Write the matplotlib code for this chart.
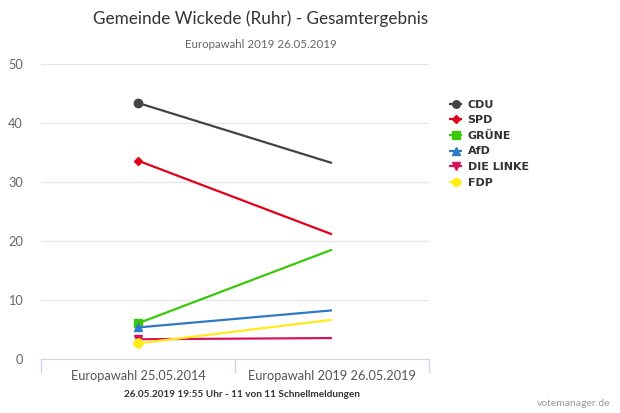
import matplotlib
matplotlib.use("Agg")
from matplotlib import pyplot as plt

# data
wahlen = ["Europawahl 25.05.2014", "Europawahl 2019 26.05.2019"]
parteien = ["CDU", "SPD", "GRÜNE", "AfD", "DIE LINKE", "FDP"]
cdu = [43.4, 33.2]
spd = [33.6, 21.1]
gruene = [6.0, 18.5]
afd = [5.3, 8.2]
linke = [3.3, 3.5]
fdp = [2.6, 6.6]

werte = [cdu, spd, gruene, afd, linke, fdp]
farben = ["#434348", "#e2001a", "#3cc80a", "#2f7ac4", "#d6145a", "#ffec1a"]
marker = ["o", "D", "s", "^", "v", "o"]
msize = [6, 4.5, 6, 6, 6, 6.5]

plt.rcParams['font.family'] = ['Lato', 'DejaVu Sans']

fig = plt.figure(figsize=(6.2, 4.13), dpi=100)
ax = fig.add_axes([0.066, 0.1315, 0.626, 0.7135])

x = list(range(len(wahlen)))
for name, y, c, m, s in zip(parteien, werte, farben, marker, msize):
    ax.plot(x, y, color=c, lw=1.6, marker=m, markersize=s, markevery=[0],
            label=name, solid_capstyle="butt")

ax.set_xlim(-0.5, 1.5)
ax.set_ylim(0, 50)
ax.set_yticks([0, 10, 20, 30, 40, 50])
ax.grid(axis="y", color="#e6e6e6", lw=1)
ax.set_axisbelow(True)
for side in ["top", "right", "left"]:
    ax.spines[side].set_visible(False)
ax.spines["bottom"].set_color("#ccd6eb")
ax.tick_params(axis="y", length=0, labelsize=9.2, labelcolor="#666666", pad=13)
ax.set_xticks(x)
ax.set_xticklabels(wahlen)
ax.set_xticks([-0.5, 0.5, 1.5], minor=True)
ax.tick_params(axis="x", which="major", length=0, labelsize=9.2,
               labelcolor="#555555", pad=8)
ax.tick_params(axis="x", which="minor", length=10, color="#ccd6eb", width=1)

fig.text(0.42, 0.955, "Gemeinde Wickede (Ruhr) - Gesamtergebnis", ha="center",
         va="center", fontsize=12.3, color="#333333")
fig.text(0.42, 0.893, "Europawahl 2019 26.05.2019", ha="center", va="center",
         fontsize=8.3, color="#666666")
fig.text(0.39, 0.046, "26.05.2019 19:55 Uhr - 11 von 11 Schnellmeldungen",
         ha="center", va="center", fontsize=7.2, fontweight="bold",
         color="#333333")
fig.text(0.985, 0.012, "votemanager.de", ha="right", va="bottom",
         fontsize=7.5, color="#999999")

leg = fig.legend(loc="upper left", bbox_to_anchor=(0.715, 0.772), frameon=False,
                 prop={"family": "DejaVu Sans", "weight": "bold", "size": 8},
                 handlelength=1.2, labelspacing=0.5,
                 handletextpad=0.5, borderpad=0, markerscale=0.9)
for t in leg.get_texts():
    t.set_color("#333333")

fig.savefig("out.png", dpi=100)
